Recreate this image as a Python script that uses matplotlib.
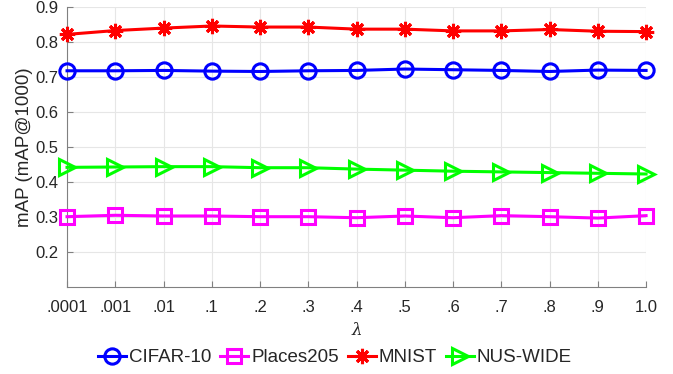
import matplotlib
matplotlib.use("Agg")
import matplotlib.pyplot as plt

plt.rcParams['font.family'] = ['Liberation Sans', 'DejaVu Sans']
plt.rcParams['mathtext.fontset'] = 'dejavuserif'

lambdas = ['.0001', '.001', '.01', '.1', '.2', '.3', '.4', '.5', '.6', '.7', '.8', '.9', '1.0']
cifar10 = [0.718, 0.718, 0.719, 0.717, 0.716, 0.718, 0.719, 0.723, 0.721, 0.719, 0.716, 0.720, 0.719]
places205 = [0.301, 0.305, 0.303, 0.303, 0.301, 0.301, 0.298, 0.303, 0.298, 0.304, 0.301, 0.297, 0.304]
mnist = [0.822, 0.833, 0.840, 0.846, 0.843, 0.843, 0.837, 0.837, 0.832, 0.832, 0.836, 0.831, 0.830]
nuswide = [0.442, 0.443, 0.444, 0.444, 0.441, 0.441, 0.437, 0.434, 0.431, 0.429, 0.427, 0.425, 0.423]
yticks = [0.2, 0.3, 0.4, 0.5, 0.6, 0.7, 0.8, 0.9]

fig = plt.figure(figsize=(6.73, 3.74), dpi=100)
ax = fig.add_axes([0.0996, 0.2326, 0.8604, 0.7484])
x = list(range(len(lambdas)))
txt = '#262626'
ax.plot(x, cifar10, color='#0000ff', lw=2.2, marker='o', ms=11, mfc='none', mew=2.2, label='CIFAR-10', clip_on=False, zorder=3)
ax.plot(x, places205, color='#ff00ff', lw=2.2, marker='s', ms=10, mfc='none', mew=2.2, label='Places205', clip_on=False, zorder=3)
ax.plot(x, mnist, color='#ff0000', lw=2.2, marker=(8, 2, 0), ms=11, mew=2.2, label='MNIST', clip_on=False, zorder=3)
ax.plot(x, nuswide, color='#00ff00', lw=2.2, marker='>', ms=12, mfc='none', mew=2.2, label='NUS-WIDE', clip_on=False, zorder=3)

ax.set_xlim(0, len(lambdas) - 1)
ax.set_ylim(0.1, 0.9)
ax.set_xticks(x)
ax.set_xticklabels(lambdas)
ax.set_yticks(yticks)
ax.set_yticklabels([f'{v:.1f}' for v in yticks])
ax.grid(True, color='#e6e6e6', lw=0.8)
ax.set_axisbelow(True)
for s in ['top', 'right']:
    ax.spines[s].set_visible(False)
for s in ['left', 'bottom']:
    ax.spines[s].set_color('#808080')
    ax.spines[s].set_linewidth(0.8)
ax.tick_params(direction='in', length=4, color='#808080', labelsize=12, labelcolor=txt)
ax.tick_params(axis='x', pad=9)
ax.tick_params(axis='y', pad=6)
ax.set_xlabel(r'$\lambda$', fontsize=12, color=txt, labelpad=5)
ax.set_ylabel('mAP (mAP@1000)', fontsize=13.5, color=txt, labelpad=2)

fig.legend(*ax.get_legend_handles_labels(), loc='center', bbox_to_anchor=(0.498, 0.043), ncol=4,
           frameon=False, fontsize=13.5, handlelength=1.5, handletextpad=0.17,
           columnspacing=0.45, labelcolor=txt, borderaxespad=0, borderpad=0)
fig.savefig('out.png', dpi=100)
